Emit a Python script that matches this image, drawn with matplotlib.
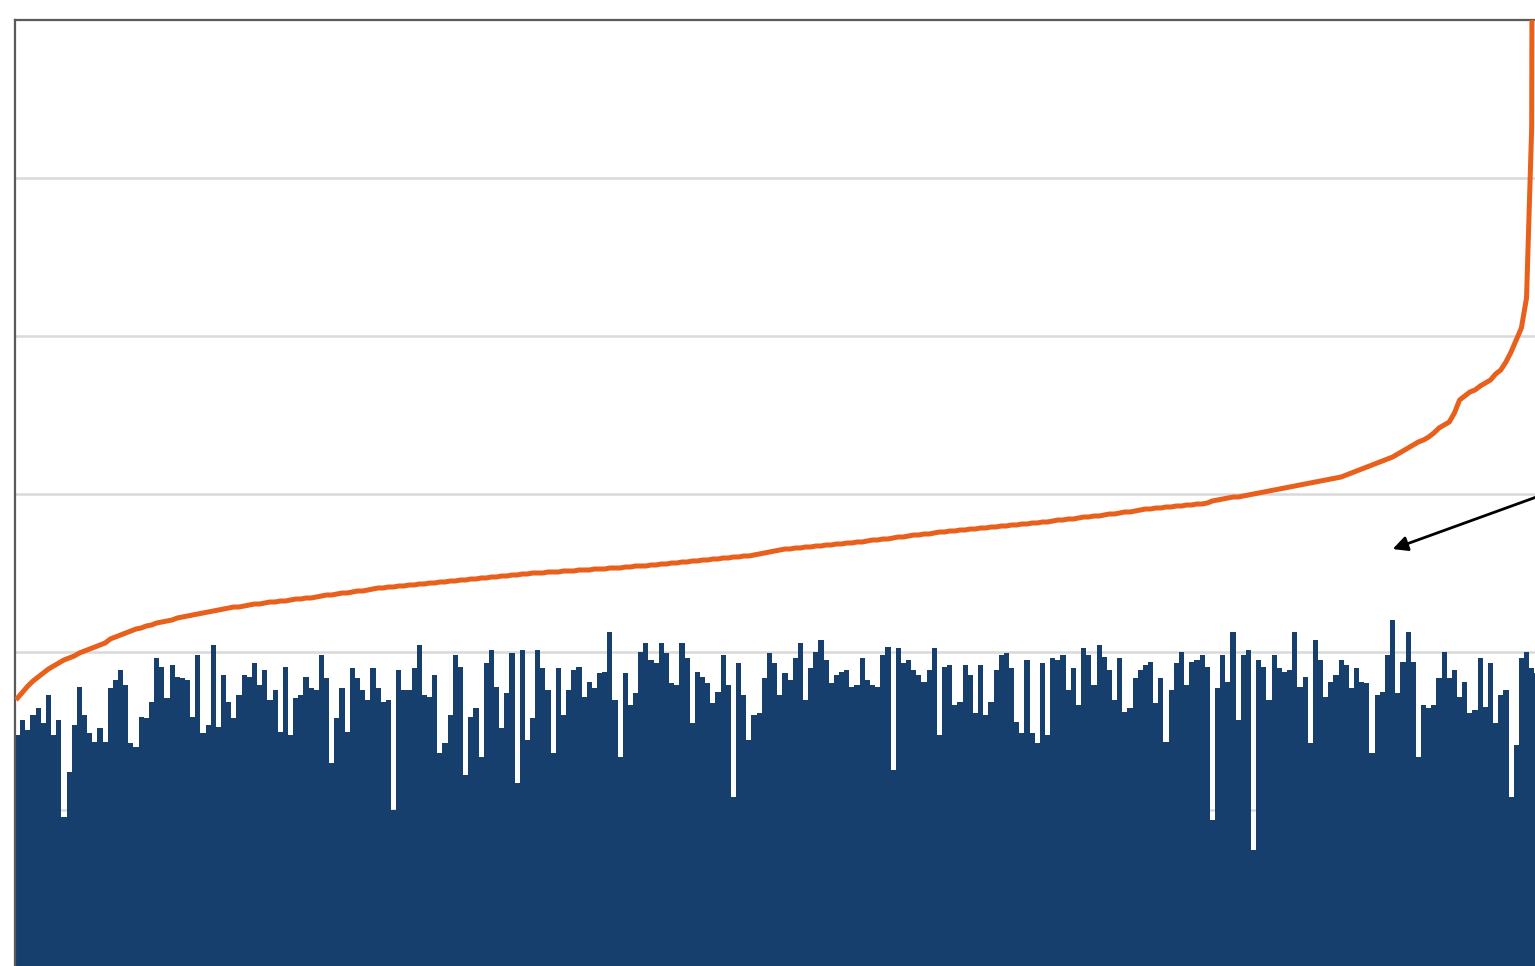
import numpy as np
import matplotlib
matplotlib.use("Agg")
import matplotlib.pyplot as plt

# Valores de las barras (unidades arbitrarias)
valores_barras = [
    233, 248,
    238, 253, 260, 245, 273, 233, 248, 151, 196, 243,
    281, 253, 235, 226, 240, 226, 280, 288, 298, 283,
    225, 221, 251, 250, 266, 310, 301, 270, 303, 291,
    290, 288, 251, 313, 235, 243, 323, 241, 293, 266,
    250, 273, 293,
    291, 305, 283, 298, 268, 278, 236, 301, 233, 270,
    273, 291, 280, 278, 313, 290, 205, 250, 280, 236,
    300, 290, 278, 268, 300, 280, 266, 268, 158, 298,
    278, 278, 300, 323, 273, 271, 293, 215, 225, 253,
    313, 301, 193, 251, 260, 211, 305, 318, 281, 240,
    275, 315, 185, 318, 228, 250, 318, 300, 278, 215,
    300, 253, 278, 298, 301, 271, 286, 280, 295, 296,
    336, 268, 211, 295, 263, 275, 316, 325, 308, 305,
    325, 315, 285, 283, 325, 310, 245, 296, 291, 285,
    265, 276, 313, 283, 171, 305, 273, 228, 253,
    255, 290, 315, 305, 273, 295, 288, 310, 325, 268,
    300, 316, 328, 308, 285, 293, 296, 298, 281, 283,
    310, 288, 283, 281, 313, 321, 198, 320, 305, 308,
    298, 293, 286, 298, 320, 233, 301, 303, 263, 266,
    303, 293, 255, 303, 253, 266, 298, 313,
    315, 300, 246, 235, 308, 235, 225, 305, 233, 310,
    308, 313, 278, 300, 263, 320, 313, 283, 323, 311,
    298, 268, 310, 256, 260, 290, 298, 303, 306, 265,
    290, 226, 278, 305, 316, 283, 306, 308, 313, 301,
    148, 280, 313, 286, 336, 248, 313, 318, 118,
    308, 301, 268, 313, 300, 296, 298, 336, 281, 291,
    225, 328, 308, 271, 286, 293, 308, 303, 280, 300,
    286, 285, 215, 273, 276, 313, 348, 275, 306, 336,
    306, 211, 263, 260, 263, 290, 316, 290, 298, 271,
    286, 255, 258, 310, 261, 305, 245, 273, 278, 171,
    223, 310, 316, 300, 295,
]

# Valores de la linea (serie ordenada)
valores_linea = [
    270, 276, 282, 287, 291, 295, 299, 302, 305, 308,
    310, 312, 315, 317, 319, 321, 323, 325, 329, 331,
    333, 335, 337, 339, 340, 342, 343, 345, 346, 347,
    348, 350, 351, 352, 353, 354, 355, 356, 357, 358,
    359, 360, 361, 361, 362, 363, 364, 364, 365, 366,
    366, 367, 367, 368, 369, 369, 370, 370, 371, 372,
    373, 373, 374, 375, 375, 376, 377, 377, 378, 379,
    380, 380, 381, 381, 382, 382, 383, 383, 384, 384,
    385, 385, 386, 386, 387, 387, 388, 388, 389, 389,
    390, 390, 391, 391, 392, 392, 393, 393, 394, 394,
    395, 395, 395, 396, 396, 396, 397, 397, 397, 398,
    398, 398, 399, 399, 399, 400, 400, 400, 401, 401,
    402, 402, 402, 403, 403, 404, 404, 405, 405, 406,
    406, 407, 407, 408, 408, 409, 409, 410, 410, 411,
    411, 412, 412, 413, 414, 415, 416, 417, 418, 419,
    419, 420, 420, 421, 421, 422, 422, 423, 423, 424,
    424, 425, 425, 426, 426, 427, 428, 428, 429, 429,
    430, 431, 431, 432, 433, 433, 434, 434, 435, 436,
    436, 437, 437, 438, 438, 439, 439, 440, 440, 441,
    441, 442, 442, 443, 443, 444, 444, 445, 445, 446,
    446, 447, 448, 448, 449, 449, 450, 451, 451, 452,
    452, 453, 454, 454, 455, 456, 456, 457, 458, 459,
    459, 460, 460, 461, 461, 462, 462, 463, 463, 464,
    464, 465, 467, 468, 469, 470, 471, 471, 472, 473,
    474, 475, 476, 477, 478, 479, 480, 481, 482, 483,
    484, 485, 486, 487, 488, 489, 490, 491, 493, 495,
    497, 499, 501, 503, 505, 507, 509, 511, 514, 517,
    520, 523, 526, 528, 531, 535, 540, 543, 546, 555,
    568, 572, 576, 578, 582, 585, 588, 594, 598, 606,
    616, 628, 640, 670, 840, 3000,
]

x_barras = np.arange(len(valores_barras))
x_linea = np.arange(len(valores_linea))

fig = plt.figure(figsize=(15.35, 9.66), dpi=100)
# el grafico esta recortado: ejes salen por la derecha y por abajo
ax = fig.add_axes([15 / 1535, -2 / 966, 1545 / 1535, 948 / 966])

ax.bar(x_barras, valores_barras, width=1.0, color="#173f6e",
       linewidth=0, antialiased=False, zorder=2)
ax.plot(x_linea, valores_linea, color="#e8601c", linewidth=3.6,
        zorder=3, solid_joinstyle="round")

# flecha de anotacion (texto fuera del recorte)
ax.annotate("", xy=(266.5, 418), xytext=(296, 473),
            arrowprops=dict(arrowstyle="-|>", color="black", lw=2,
                            mutation_scale=22),
            annotation_clip=False, zorder=4)

ax.set_xlim(-0.5, 299.5)
ax.set_ylim(0, 948)
ax.set_yticks([158, 316, 474, 632, 790])
ax.yaxis.grid(True, color="#d9d9d9", linewidth=1.8, zorder=0)
ax.set_axisbelow(True)
ax.tick_params(left=False, bottom=False, labelleft=False, labelbottom=False)

for lado in ["top", "left"]:
    ax.spines[lado].set_color("#5a5a5a")
    ax.spines[lado].set_linewidth(1.6)
ax.spines["right"].set_visible(False)
ax.spines["bottom"].set_visible(False)

fig.savefig("out.png", dpi=100)
